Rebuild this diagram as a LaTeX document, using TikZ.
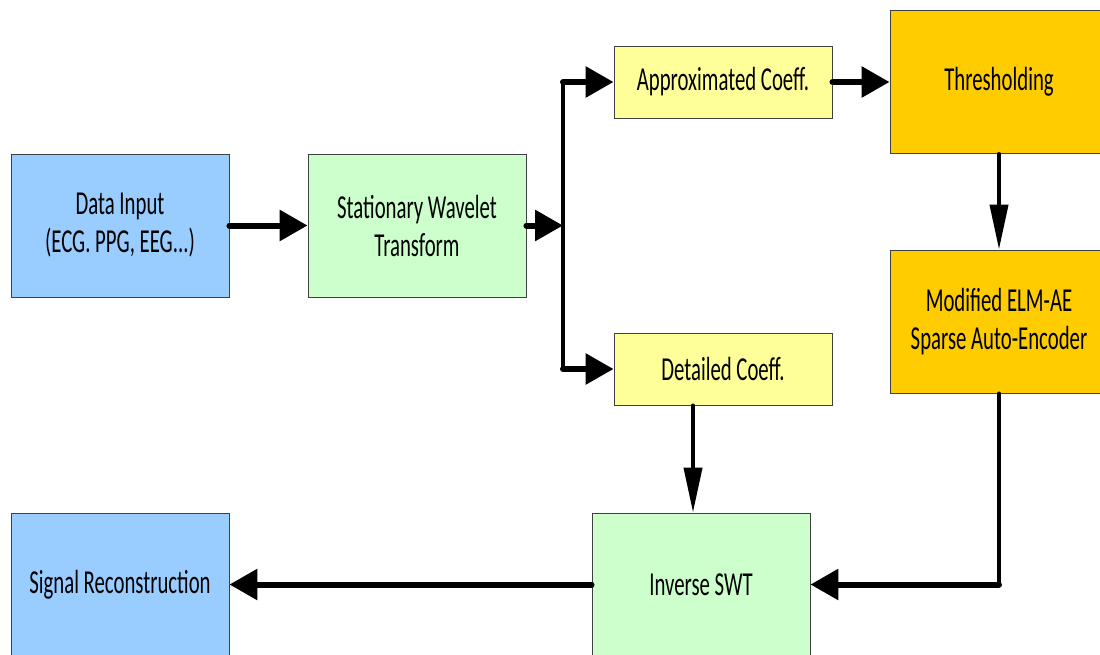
\documentclass[tikz,border=0pt]{standalone}
\usepackage{fontspec}
\setmainfont[FakeStretch=0.62]{Carlito}
\usetikzlibrary{arrows.meta}
\definecolor{cblue}{HTML}{99CCFF}
\definecolor{cgreen}{HTML}{CCFFCC}
\definecolor{cyellow}{HTML}{FFFF99}
\definecolor{corange}{HTML}{FFCC00}
\begin{document}
\begin{tikzpicture}[x=1pt,y=-1pt,
  box/.style={draw=black!75,line width=0.9pt,minimum width=218pt,minimum height=143pt,
    inner sep=0pt,align=center,font=\fontsize{33.5}{38}\selectfont,anchor=center},
  small/.style={box,minimum height=72pt},
  harr/.style={line width=6pt,line cap=round,-{Triangle[length=28pt,width=30pt]}},
  varr/.style={line width=4pt,line cap=round,-{Triangle[length=45pt,width=18pt]}},
  vln/.style={line width=4pt,line cap=round},
  hln/.style={line width=6pt,line cap=round}]
\clip (0,0) rectangle (1100,654);
\fill[white] (0,0) rectangle (1100,654);
\node[box,fill=cblue] (din) at (120,225.5) {Data Input\\(ECG. PPG, EEG...)};
\node[box,fill=cgreen] (swt) at (417,225.5) {Stationary Wavelet\\Transform};
\node[small,fill=cyellow] (app) at (723,82) {Approximated Coeff.};
\node[small,fill=cyellow] (det) at (723,369) {Detailed Coeff.};
\node[box,fill=corange] (thr) at (999,82) {Thresholding};
\node[box,fill=corange] (elm) at (999,321.5) {Modified ELM-AE\\Sparse Auto-Encoder};
\node[box,fill=cblue] (rec) at (120,584.5) {Signal Reconstruction};
\node[box,fill=cgreen] (inv) at (701,584.5) {Inverse SWT};
\coordinate (jn) at (563,225.5);
\coordinate (ja) at (jn |- app.west);
\coordinate (jd) at (jn |- det.west);
\coordinate (dx) at (693,0);
\coordinate (ec) at (elm.south |- inv.east);
\draw[harr] (din.east) -- (swt.west);
\draw[harr] (swt.east) -- (jn);
\draw[vln] (ja) -- (jd);
\draw[harr] (ja) -- (app.west);
\draw[harr] (jd) -- (det.west);
\draw[harr] (app.east) -- (thr.west);
\draw[varr] (thr.south) -- (elm.north);
\draw[varr] (det.south -| dx) -- (inv.north -| dx);
\draw[vln] (elm.south) -- (ec);
\draw[harr] (ec) -- (inv.east);
\draw[harr] (inv.west) -- (rec.east);
\end{tikzpicture}
\end{document}
